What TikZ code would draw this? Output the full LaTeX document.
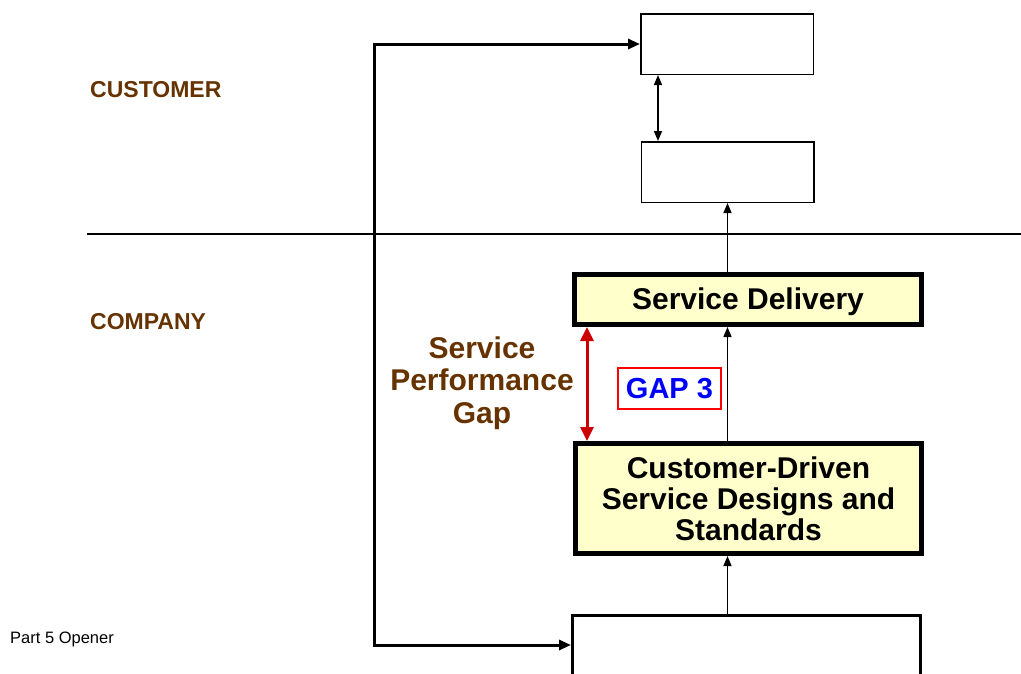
\documentclass[tikz,border=0pt]{standalone}
\usepackage{fontspec}
\setmainfont{Liberation Sans}
\usetikzlibrary{arrows.meta}
\definecolor{gapbrown}{HTML}{663300}
\definecolor{boxyellow}{HTML}{FFFFCC}
\definecolor{gapred}{HTML}{CC0000}
\definecolor{gapline}{HTML}{FF0000}
\tikzstyle{plainbox} = [draw,line width=1.5pt,minimum width=172.5pt,minimum height=60.5pt,inner sep=0pt]
\tikzstyle{stepbox} = [draw,line width=5pt,fill=boxyellow,inner sep=0pt,
    font=\bfseries\fontsize{30}{31}\selectfont,align=center]
\tikzstyle{flow} = [line width=1.4pt,-{Triangle[length=10pt,width=8pt]}]
\tikzstyle{feedback} = [line width=3pt,{Triangle[length=12pt,width=10pt]}-{Triangle[length=12pt,width=10pt]}]
\tikzstyle{gaparrow} = [line width=3pt,gapred,{Triangle[length=14pt,width=13pt]}-{Triangle[length=14pt,width=13pt]}]
\tikzstyle{sidelabel} = [font=\bfseries\fontsize{23}{25}\selectfont,text=gapbrown,anchor=west,inner sep=0pt]
\tikzstyle{gapbox} = [draw=gapline,line width=2pt,text=blue,inner sep=0pt,
    font=\bfseries\fontsize{29}{30}\selectfont]

\begin{document}
\begin{tikzpicture}[x=1pt,y=-1pt]
    \useasboundingbox (0,0) rectangle (1021,673);

    \node(expected) at (727,44) [plainbox] {};
    \node(perceived) at (727.5,172) [plainbox] {};
    \node(delivery) at (748,299.5) [stepbox,minimum width=347pt,minimum height=50pt,text depth=1pt] {Service Delivery};
    \node(designs) at (748.5,498.5) [stepbox,minimum width=346pt,minimum height=110pt]
        {Customer-Driven\\Service Designs and\\Standards};
    \node(perceptions) at (746.5,660) [draw,line width=3pt,minimum width=348pt,minimum height=89pt] {};

    \node(customer) at (90,90) [sidelabel] {CUSTOMER};
    \node(company) at (90,322) [sidelabel] {COMPANY};
    \node(opener) at (10,643) [anchor=base west,inner sep=0pt,font=\fontsize{16.5}{17}\selectfont] {Part 5 Opener};

    \node(gapname) at (482,383) [font=\bfseries\fontsize{30}{32.5}\selectfont,text=gapbrown,align=center]
        {Service\\Performance\\Gap};
    \node(gap) at (669.5,388.5) [gapbox,minimum width=103.5pt,minimum height=41.5pt] {GAP 3};

    % divider between customer and company
    \coordinate(divleft) at (87,234);
    \coordinate(divright) at (1021,234);
    \draw[line width=1.5pt] (divleft) -- (divright);

    \coordinate(pairx) at (658,0);
    \draw[flow,{Triangle[length=10pt,width=8pt]}-{Triangle[length=10pt,width=8pt]}] (expected.south -| pairx) -- (perceived.north -| pairx);
    \draw[flow] (delivery.north -| perceived.south) -- (perceived.south);
    \draw[flow] (designs.north -| perceived.south) -- (delivery.south -| perceived.south);
    \draw[flow] (perceptions.north -| perceived.south) -- (designs.south -| perceived.south);

    \coordinate(lowbend) at (374,645);
    \draw[feedback] (expected.west) -| (lowbend) -- (lowbend -| perceptions.west);

    \coordinate(gapx) at (587,0);
    \draw[gaparrow] (delivery.south -| gapx) -- (designs.north -| gapx);
\end{tikzpicture}
\end{document}
